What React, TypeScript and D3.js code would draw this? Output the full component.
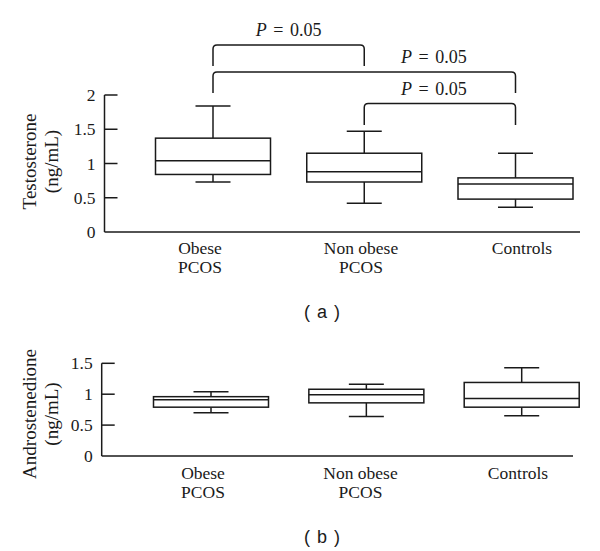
import React from "react";
import * as d3 from "d3";

const groups = ["Obese PCOS", "Non obese PCOS", "Controls"];
const groupLines = [["Obese", "PCOS"], ["Non obese", "PCOS"], ["Controls"]];

// testosterone (ng/mL): lower whisker, Q1, median, Q3, upper whisker
const testoLow = [0.73, 0.42, 0.36];
const testoQ1 = [0.84, 0.73, 0.48];
const testoMed = [1.04, 0.88, 0.7];
const testoQ3 = [1.37, 1.15, 0.79];
const testoHigh = [1.84, 1.47, 1.15];
const testoTicks = [0, 0.5, 1, 1.5, 2];

// androstenedione (ng/mL)
const androLow = [0.7, 0.64, 0.65];
const androQ1 = [0.79, 0.86, 0.79];
const androMed = [0.91, 0.99, 0.93];
const androQ3 = [0.96, 1.08, 1.19];
const androHigh = [1.04, 1.16, 1.43];
const androTicks = [0, 0.5, 1, 1.5];

const comparisons = [
  { a: "Obese PCOS", b: "Non obese PCOS", p: "0.05" },
  { a: "Obese PCOS", b: "Controls", p: "0.05" },
  { a: "Non obese PCOS", b: "Controls", p: "0.05" },
];

// bracket layout (pixels): top line, leg bottom, label position along bracket
const bracketTop = [45, 72, 103.5];
const bracketLeg = [66, 93, 125];
const bracketLabelAt = [0.5, 0.73, 0.46];

const SERIF = "'Liberation Serif', 'DejaVu Serif', serif";
const SANS = "'Liberation Sans', Arial, sans-serif";
const INK = "#1a1a1a";

const layoutA = {
  axisX: 104.5, axisEnd: 580, y0: 232, y1: 95,
  boxRange: [213, 515.5], labelRange: [200, 522], labelY: 253.5,
  titleCy: 161.5, caption: "( a )", captionY: 318,
};
const layoutB = {
  axisX: 101.7, axisEnd: 573, y0: 456, y1: 363.3,
  boxRange: [211, 521.7], labelRange: [203, 518], labelY: 478.5,
  titleCy: 414, caption: "( b )", captionY: 543,
};

const boxW = 115;
const capW = 35;

function BoxPanel({ L, title, ticks, low, q1, med, q3, high, withBrackets }: any) {
  const y = d3.scaleLinear().domain([0, d3.max(ticks) as number]).range([L.y0, L.y1]);
  const xb = d3.scalePoint<string>().domain(groups).range(L.boxRange);
  const xl = d3.scalePoint<string>().domain(groups).range(L.labelRange);

  const bracketPath = (x1: number, x2: number, top: number, leg: number) => {
    const r = 4;
    return `M${x1},${leg} L${x1},${top + r} Q${x1},${top} ${x1 + r},${top} L${x2 - r},${top} Q${x2},${top} ${x2},${top + r} L${x2},${leg}`;
  };

  return (
    <g>
      {/* axes */}
      <line x1={L.axisX} x2={L.axisX} y1={y(0)} y2={y(d3.max(ticks) as number)} stroke={INK} strokeWidth={1.5} />
      <line x1={L.axisX} x2={L.axisEnd} y1={y(0)} y2={y(0)} stroke={INK} strokeWidth={1.5} />
      {ticks.map((t: number) => (
        <g key={t}>
          {t > 0 && <line x1={L.axisX} x2={L.axisX + 13} y1={y(t)} y2={y(t)} stroke={INK} strokeWidth={1.5} />}
          <text x={L.axisX - 9} y={y(t) + 6} textAnchor="end" fontFamily={SERIF} fontSize={17.5} fill={INK}>
            {String(t)}
          </text>
        </g>
      ))}

      {/* y title */}
      <g transform={`translate(36,${L.titleCy}) rotate(-90)`}>
        <text textAnchor="middle" fontFamily={SERIF} fontSize={19} fill={INK}>{title}</text>
      </g>
      <g transform={`translate(57.5,${L.titleCy}) rotate(-90)`}>
        <text textAnchor="middle" fontFamily={SERIF} fontSize={19} fill={INK}>(ng/mL)</text>
      </g>

      {/* boxes */}
      {groups.map((g, i) => {
        const cx = xb(g) as number;
        return (
          <g key={g} stroke={INK} strokeWidth={1.5} fill="none">
            <line x1={cx} x2={cx} y1={y(high[i])} y2={y(q3[i])} />
            <line x1={cx} x2={cx} y1={y(q1[i])} y2={y(low[i])} />
            <line x1={cx - capW / 2} x2={cx + capW / 2} y1={y(high[i])} y2={y(high[i])} />
            <line x1={cx - capW / 2} x2={cx + capW / 2} y1={y(low[i])} y2={y(low[i])} />
            <rect x={cx - boxW / 2} width={boxW} y={y(q3[i])} height={y(q1[i]) - y(q3[i])} fill="#fff" />
            <line x1={cx - boxW / 2} x2={cx + boxW / 2} y1={y(med[i])} y2={y(med[i])} />
          </g>
        );
      })}

      {/* category labels */}
      {groups.map((g, i) =>
        groupLines[i].map((s, j) => (
          <text key={g + j} x={xl(g)} y={L.labelY + j * 19.5} textAnchor="middle" fontFamily={SERIF} fontSize={17.5} fill={INK}>
            {s}
          </text>
        ))
      )}

      {/* significance brackets */}
      {withBrackets &&
        comparisons.map((c, i) => {
          const x1 = xb(c.a) as number;
          const x2 = xb(c.b) as number;
          const lx = x1 + (x2 - x1) * bracketLabelAt[i];
          return (
            <g key={i}>
              <path d={bracketPath(x1, x2, bracketTop[i], bracketLeg[i])} fill="none" stroke={INK} strokeWidth={1.5} />
              <text x={lx} y={bracketTop[i] - 9} textAnchor="middle" fontFamily={SERIF} fontSize={18} fill={INK} style={{ wordSpacing: "2px" }}>
                <tspan fontStyle="italic">P</tspan>
                {` = ${c.p}`}
              </text>
            </g>
          );
        })}

      {/* caption */}
      <text x={322} y={L.captionY} textAnchor="middle" fontFamily={SANS} fontSize={18} fill={INK} style={{ wordSpacing: "2px" }}>
        {L.caption}
      </text>
    </g>
  );
}

export default function App() {
  return (
    <svg width={600} height={551} style={{ position: "absolute", left: 0, top: 0, background: "#fff" }}>
      <BoxPanel L={layoutA} title="Testosterone" ticks={testoTicks}
        low={testoLow} q1={testoQ1} med={testoMed} q3={testoQ3} high={testoHigh} withBrackets />
      <BoxPanel L={layoutB} title="Androstenedione" ticks={androTicks}
        low={androLow} q1={androQ1} med={androMed} q3={androQ3} high={androHigh} />
    </svg>
  );
}
